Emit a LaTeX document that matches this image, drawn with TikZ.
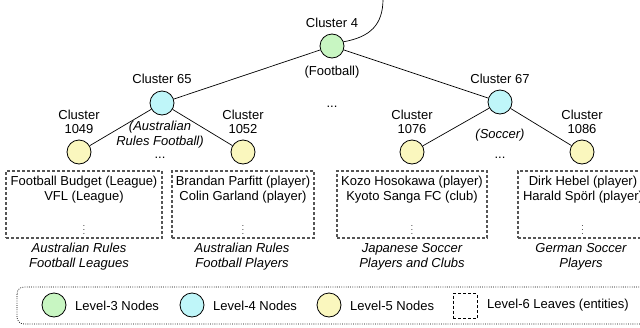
\documentclass[tikz,border=0pt]{standalone}
\usepackage{fontspec}
\setmainfont{Liberation Sans}
\usetikzlibrary{positioning}
\definecolor{lvgreen}{HTML}{C8F6C2}
\definecolor{lvcyan}{HTML}{BFF6F9}
\definecolor{lvyellow}{HTML}{FAF7BE}
\definecolor{boxgray}{HTML}{555555}
\begin{document}
\begin{tikzpicture}[x=1pt,y=-1pt,
	font=\fontsize{13}{14.5}\selectfont,
	clnode/.style={circle,draw,line width=0.8pt,minimum size=24pt,inner sep=0pt},
	lvthree/.style={clnode,fill=lvgreen},
	lvfour/.style={clnode,fill=lvcyan},
	lvfive/.style={clnode,fill=lvyellow},
	leafbox/.style={draw=boxgray,line width=1.1pt,dash pattern=on 3pt off 2pt,inner sep=0pt},
	captext/.style={font=\fontsize{13}{15}\selectfont\itshape,align=center},
	edge/.style={line width=0.7pt}]
	\useasboundingbox (0,0) rectangle (640,327);
	\node[lvthree] (c4) at (332,46) {};
	\node[lvfour] (c65) at (162,103) {};
	\node[lvfour] (c67) at (500,102) {};
	\node[lvfive] (c1049) at (79,152) {};
	\node[lvfive] (c1052) at (243,152) {};
	\node[lvfive] (c1076) at (412,152) {};
	\node[lvfive] (c1086) at (582,152) {};
	\coordinate (top) at (383,-1);
	\draw[edge] (c4) -- (c65);
	\draw[edge] (c4) -- (c67);
	\draw[edge] (c65) -- (c1049);
	\draw[edge] (c65) -- (c1052);
	\draw[edge] (c67) -- (c1076);
	\draw[edge] (c67) -- (c1086);
	\draw[edge] (c4.20) .. controls (370,37) and (383,25) .. (top);
	\node (l4) at (332,23) {Cluster 4};
	\node (f4) at (332,72) {(Football)};
	\node[anchor=base] (d4) at (332,107) {...};
	\node (l65) at (162,79) {Cluster 65};
	\node (l67) at (500,79) {Cluster 67};
	\node[align=center] (a65) at (160,134.5) {\itshape(Australian\\\itshape Rules Football)};
	\node[anchor=base] (d65) at (160,158) {...};
	\node (a67) at (500,135) {\itshape(Soccer)};
	\node[anchor=base] (d67) at (500,158) {...};
	\node[align=center] (l1049) at (79,122) {Cluster\\1049};
	\node[align=center] (l1052) at (243,122) {Cluster\\1052};
	\node[align=center] (l1076) at (412,122) {Cluster\\1076};
	\node[align=center] (l1086) at (582,122) {Cluster\\1086};
	\node[leafbox,minimum width=156pt,minimum height=67pt] (b1) at (84,204.5) {};
	\node[leafbox,minimum width=142pt,minimum height=67pt] (b2) at (243,204.5) {};
	\node[leafbox,minimum width=150pt,minimum height=67pt] (b3) at (412,204.5) {};
	\node[leafbox,minimum width=129pt,minimum height=67pt] (b4) at (582.5,204.5) {};
	\node[align=center] (t1) at (84,189.5) {Football Budget (League)\\VFL (League)};
	\node[align=center] (t2) at (243,189.5) {Brandan Parfitt (player)\\Colin Garland (player)};
	\node[align=center] (t3) at (412,189.5) {Kozo Hosokawa (player)\\Kyoto Sanga FC (club)};
	\node[align=center] (t4) at (583,189.5) {Dirk Hebel (player)\\Harald Spörl (player)};
	\foreach \b in {b1,b2,b3,b4}
		\node[font=\fontsize{8}{8}\selectfont] at ([yshift=11pt]\b.south) {$\vdots$};
	\node[captext] (k1) at (79,256.5) {Australian Rules\\Football Leagues};
	\node[captext] (k2) at (242,256.5) {Australian Rules\\Football Players};
	\node[captext] (k3) at (412,256.5) {Japanese Soccer\\Players and Clubs};
	\node[captext] (k4) at (581,256.5) {German Soccer\\Players};
	\draw[line width=0.7pt,dash pattern=on 0.8pt off 1.4pt,rounded corners=7pt] (17,287) rectangle (660,324);
	\node[lvthree] (g3) at (54,305) {};
	\node[anchor=west,inner sep=0pt] (g3t) at (75,305.5) {Level-3 Nodes};
	\node[lvfour] (g4) at (192,305) {};
	\node[anchor=west,inner sep=0pt] (g4t) at (213,305.5) {Level-4 Nodes};
	\node[lvfive] (g5) at (329,305) {};
	\node[anchor=west,inner sep=0pt] (g5t) at (350,305.5) {Level-5 Nodes};
	\node[leafbox,draw=black,line width=0.9pt,minimum width=24pt,minimum height=25pt] (g6) at (465,306) {};
	\node[anchor=west,inner sep=0pt] (g6t) at (487,305.5) {Level-6 Leaves (entities)};
\end{tikzpicture}
\end{document}
